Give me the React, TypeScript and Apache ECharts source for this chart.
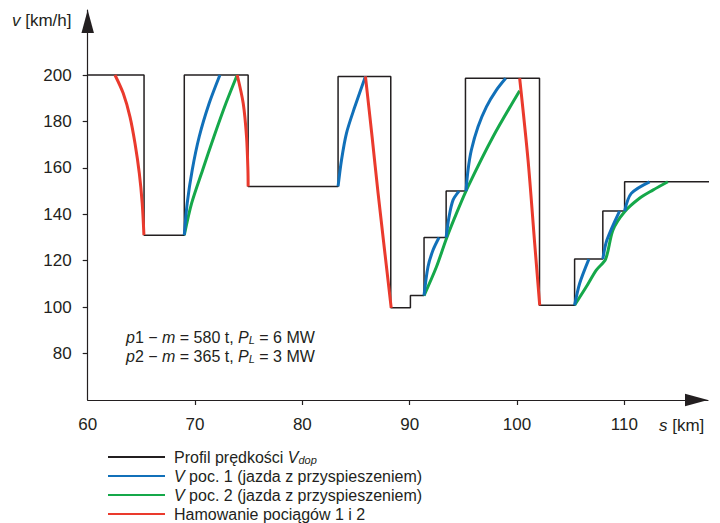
import React, { useEffect, useRef } from "react";
import * as echarts from "echarts";

// ---- data (km, km/h) ----
const xTickLabels = [60, 70, 80, 90, 100, 110];
const yTickLabels = [80, 100, 120, 140, 160, 180, 200];

const profile: number[][] = [
  [60, 200], [65.25, 200], [65.25, 131], [69.0, 131], [69.0, 200], [74.95, 200],
  [74.95, 152], [83.33, 152], [83.33, 199.4], [88.24, 199.4], [88.24, 99.7],
  [90.07, 99.7], [90.07, 105], [91.34, 105], [91.34, 130], [93.4, 130],
  [93.4, 150], [95.2, 150], [95.2, 198.6], [102.1, 198.6], [102.1, 100.8],
  [105.37, 100.8], [105.37, 120.7], [108.0, 120.7], [108.0, 141.4],
  [110.03, 141.4], [110.03, 154], [118.6, 154],
];

const blue1 = [[69.0, 131], [69.27, 144.7], [69.74, 159.1], [70.39, 173.4], [71.32, 187.8], [72.32, 200]];
const blue2 = [[83.33, 152], [83.65, 163.4], [84.11, 174.9], [84.89, 186.3], [85.88, 199.4]];
const blue3a = [[91.34, 105], [91.71, 117.4], [92.18, 124.6], [92.74, 130]];
const blue3b = [[93.4, 130], [93.67, 138.9], [94.04, 146.1], [94.6, 150]];
const blue3c = [[95.25, 150], [95.44, 159.1], [95.75, 167.7], [96.37, 177.7], [97.15, 186.3], [98.08, 193.5], [98.95, 198.6]];
const blue4a = [[105.37, 100.8], [105.84, 110.2], [106.7, 120.7]];
const blue4b = [[108.0, 120.7], [108.38, 128.9], [109.56, 141.4]];
const blue4c = [[110.03, 141.4], [110.65, 149.0], [112.36, 154]];

const green1 = [[69.0, 131], [69.68, 144.7], [70.71, 159.1], [71.76, 173.4], [72.88, 187.8], [73.93, 200]];
const green3 = [[91.34, 105], [92.5, 117.4], [93.43, 129.6], [94.4, 140.8], [95.44, 151.9], [97.77, 173.4], [100.25, 193.2]];
const green4 = [[105.37, 100.8], [106.46, 108.75], [107.39, 115.95], [108.26, 120.7], [108.94, 133.2], [110.03, 141.1], [111.42, 146.9], [112.66, 150.4], [114.06, 154]];

const red1 = [[62.54, 200], [63.31, 192.1], [63.94, 182.0], [64.41, 170.5], [64.81, 157.6], [65.08, 144.7], [65.24, 131]];
const red2 = [[73.93, 200], [74.49, 187.8], [74.8, 173.4], [74.93, 159.1], [74.95, 152]];
const red3 = [[85.88, 199.4], [86.5, 173.4], [87.06, 149.0], [88.28, 99.7]];
const red4 = [[100.25, 198.6], [101.03, 163.4], [101.65, 127.5], [102.12, 100.8]];

const NAME_PROFILE = "Profil prędkości Vdop";
const NAME_V1 = "V poc. 1 (jazda z przyspieszeniem)";
const NAME_V2 = "V poc. 2 (jazda z przyspieszeniem)";
const NAME_BRAKE = "Hamowanie pociągów 1 i 2";

const FONT = "'Liberation Sans', Arial, Helvetica, sans-serif";
const INK = "#231f20";
const BLUE = "#1170b9";
const GREEN = "#15a84a";
const RED = "#ea3a2d";

export default function App() {
  const ref = useRef<HTMLDivElement>(null);
  useEffect(() => {
    document.body.style.margin = "0";
    if (!ref.current) return;
    const chart = echarts.init(ref.current, null, { renderer: "svg" });

    const curve = (name: string, data: number[][], color: string, z: number) => ({
      type: "line",
      name,
      data,
      smooth: 0.3,
      symbol: "none",
      lineStyle: { color, width: 3 },
      itemStyle: { color },
      z,
      clip: false,
    });

    const series: any[] = [
      {
        type: "line",
        name: NAME_PROFILE,
        data: profile,
        symbol: "none",
        lineStyle: { color: INK, width: 1.5 },
        itemStyle: { color: INK },
        z: 2,
        clip: false,
      },
      curve(NAME_V1, blue1, BLUE, 4),
      curve(NAME_V2, green1, GREEN, 3),
      curve(NAME_BRAKE, red1, RED, 5),
      curve(NAME_V1, blue2, BLUE, 4),
      curve(NAME_V1, blue3a, BLUE, 4),
      curve(NAME_V1, blue3b, BLUE, 4),
      curve(NAME_V1, blue3c, BLUE, 4),
      curve(NAME_V1, blue4a, BLUE, 4),
      curve(NAME_V1, blue4b, BLUE, 4),
      curve(NAME_V1, blue4c, BLUE, 4),
      curve(NAME_V2, green3, GREEN, 3),
      curve(NAME_V2, green4, GREEN, 3),
      curve(NAME_BRAKE, red2, RED, 5),
      curve(NAME_BRAKE, red3, RED, 5),
      curve(NAME_BRAKE, red4, RED, 5),
    ];

    const legendText: Record<string, string> = {
      [NAME_PROFILE]: "Profil prędkości {i|V}{sub|dop}",
      [NAME_V1]: "{i|V} poc. 1 (jazda z przyspieszeniem)",
      [NAME_V2]: "{i|V} poc. 2 (jazda z przyspieszeniem)",
      [NAME_BRAKE]: "Hamowanie pociągów 1 i 2",
    };

    const annRich = {
      i: { fontFamily: FONT, fontSize: 16, fontStyle: "italic", color: INK },
      sub: { fontFamily: FONT, fontSize: 11, fontStyle: "italic", color: INK, verticalAlign: "bottom", lineHeight: 10 },
    };

    chart.setOption({
      animation: false,
      grid: { left: 87.7, right: 12, top: 10, bottom: 123 },
      xAxis: {
        type: "value",
        min: 60,
        max: 117.8,
        axisLine: {
          lineStyle: { color: INK, width: 1.2 },
          symbol: ["none", "triangle"],
          symbolSize: [12.5, 23],
          symbolOffset: [0, -11.5],
        },
        axisTick: { customValues: [70, 80, 90, 100, 110], length: 5, lineStyle: { color: INK, width: 1.2 } },
        axisLabel: { customValues: xTickLabels, margin: 16, fontSize: 17, fontFamily: FONT, color: INK },
        splitLine: { show: false },
      },
      yAxis: {
        type: "value",
        min: 60,
        max: 228,
        axisLine: {
          show: true,
          lineStyle: { color: INK, width: 1.2 },
          symbol: ["none", "triangle"],
          symbolSize: [12.5, 23],
          symbolOffset: [0, -11.5],
        },
        axisTick: { show: true, customValues: yTickLabels, length: 5, lineStyle: { color: INK, width: 1.2 } },
        axisLabel: { customValues: yTickLabels, margin: 16, fontSize: 17, fontFamily: FONT, color: INK },
        splitLine: { show: false },
      },
      legend: {
        orient: "vertical",
        left: 107,
        top: 449,
        padding: 0,
        itemWidth: 57,
        itemHeight: 10,
        itemGap: 3,
        selectedMode: false,
        itemStyle: { opacity: 0 },
        data: [NAME_PROFILE, NAME_V1, NAME_V2, NAME_BRAKE],
        formatter: (name: string) => legendText[name] || name,
        textStyle: {
          fontFamily: FONT,
          fontSize: 16,
          color: INK,
          lineHeight: 16,
          padding: [0, 0, 0, 4],
          rich: {
            i: { fontFamily: FONT, fontSize: 16, fontStyle: "italic", color: INK, lineHeight: 16 },
            sub: { fontFamily: FONT, fontSize: 11, fontStyle: "italic", color: INK, lineHeight: 10, verticalAlign: "bottom" },
          },
        },
      },
      graphic: [
        {
          type: "text",
          left: 12,
          top: 12,
          style: {
            text: "{i|v} [km/h]",
            font: `17px ${FONT}`,
            fill: INK,
            rich: { i: { fontFamily: FONT, fontSize: 17, fontStyle: "italic", fill: INK } },
          },
        },
        {
          type: "text",
          left: 659,
          top: 417,
          style: {
            text: "{i|s} [km]",
            font: `17px ${FONT}`,
            fill: INK,
            rich: { i: { fontFamily: FONT, fontSize: 17, fontStyle: "italic", fill: INK } },
          },
        },
        {
          type: "text",
          left: 126,
          top: 329,
          style: {
            text: "{i|p}1 − {i|m} = 580 t, {i|P}{sub|L} = 6 MW",
            font: `16px ${FONT}`,
            fill: INK,
            rich: annRich,
          },
        },
        {
          type: "text",
          left: 126,
          top: 348,
          style: {
            text: "{i|p}2 − {i|m} = 365 t, {i|P}{sub|L} = 3 MW",
            font: `16px ${FONT}`,
            fill: INK,
            rich: annRich,
          },
        },
      ],
      series,
    });

    return () => chart.dispose();
  }, []);

  return <div ref={ref} style={{ width: 720, height: 523 }} />;
}
